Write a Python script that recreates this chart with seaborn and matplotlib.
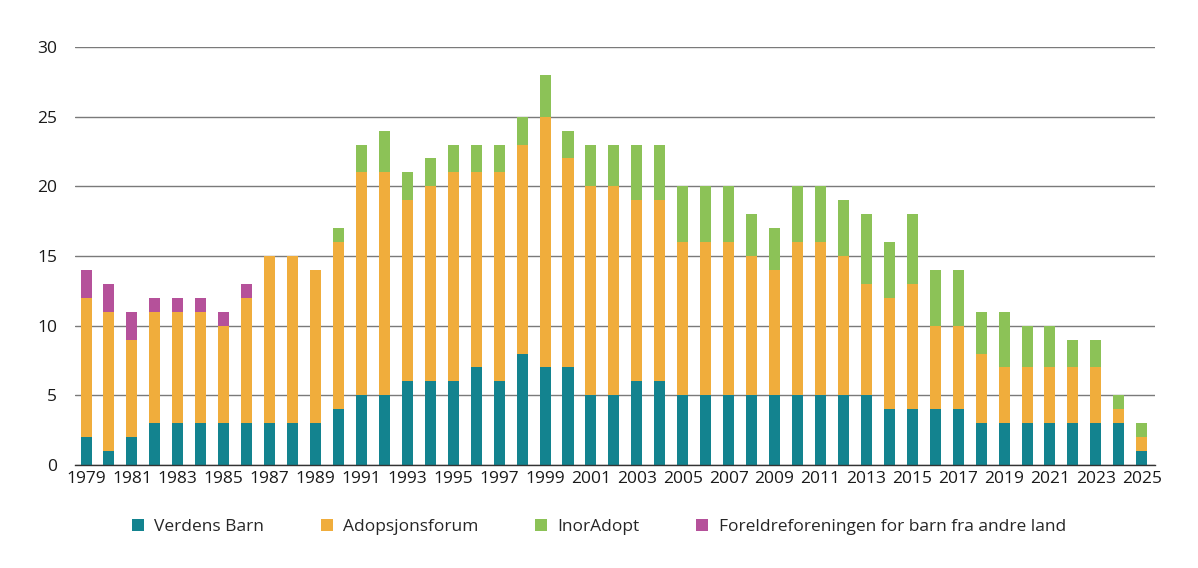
import numpy as np
import pandas as pd
import matplotlib
matplotlib.use("Agg")
import matplotlib.pyplot as plt
import seaborn as sns
from matplotlib.patches import Patch

years = list(range(1979, 2026))
verdens_barn = [2, 1, 2, 3, 3, 3, 3, 3, 3, 3, 3, 4, 5, 5, 6, 6, 6, 7, 6, 8, 7, 7,
                5, 5, 6, 6, 5, 5, 5, 5, 5, 5, 5, 5, 5, 4, 4, 4, 4, 3, 3, 3, 3, 3, 3, 3, 1]
adopsjonsforum = [10, 10, 7, 8, 8, 8, 7, 9, 12, 12, 11, 12, 16, 16, 13, 14, 15, 14, 15, 15, 18, 15,
                  15, 15, 13, 13, 11, 11, 11, 10, 9, 11, 11, 10, 8, 8, 9, 6, 6, 5, 4, 4, 4, 4, 4, 1, 1]
inoradopt = [0, 0, 0, 0, 0, 0, 0, 0, 0, 0, 0, 1, 2, 3, 2, 2, 2, 2, 2, 2, 3, 2,
             3, 3, 4, 4, 4, 4, 4, 3, 3, 4, 4, 4, 5, 4, 5, 4, 4, 3, 4, 3, 3, 2, 2, 1, 1]
foreldreforeningen = [2, 2, 2, 1, 1, 1, 1, 1, 0, 0, 0, 0, 0, 0, 0, 0, 0, 0, 0, 0, 0, 0,
                      0, 0, 0, 0, 0, 0, 0, 0, 0, 0, 0, 0, 0, 0, 0, 0, 0, 0, 0, 0, 0, 0, 0, 0, 0]
series_names = ["Verdens Barn", "Adopsjonsforum", "InorAdopt",
                "Foreldreforeningen for barn fra andre land"]
colors = ["#13838f", "#f0ad3c", "#8cc257", "#b5519a"]
yticks = [0, 5, 10, 15, 20, 25, 30]

sns.set_theme(style="white")
plt.rcParams['font.family'] = ['Open Sans', 'DejaVu Sans']

df = pd.DataFrame({
    "year": [str(y) for y in years],
    series_names[0]: verdens_barn,
    series_names[1]: adopsjonsforum,
    series_names[2]: inoradopt,
    series_names[3]: foreldreforeningen,
})
cum = df[series_names].cumsum(axis=1)

fig = plt.figure(figsize=(11.98, 5.68), dpi=100)
ax = fig.add_axes([0.0626, 0.1813, 0.9014, 0.736])

# draw cumulative totals from top series down so lower segments overlay
for name, col in reversed(list(zip(series_names, colors))):
    sns.barplot(x=df["year"], y=cum[name], color=col, width=0.48,
                saturation=1, ax=ax, edgecolor="none", linewidth=0, zorder=3)

ax.set_ylim(0, 30)
ax.set_xlim(-0.48, len(years) - 1 + 0.57)
ax.set_yticks(yticks)
ax.set_yticklabels([str(t) for t in yticks], fontsize=12.5, color="#1a1a1a")
ax.yaxis.grid(True, color="#7a7a7a", linewidth=1.0, zorder=0)
ax.set_axisbelow(True)
ax.set_xticks(range(len(years)))
ax.set_xticklabels([str(y) if (y - 1979) % 2 == 0 else "" for y in years],
                   fontsize=12.5, color="#1a1a1a")
ax.tick_params(axis="x", length=0, pad=4)
ax.tick_params(axis="y", length=0, pad=13)
ax.set_xlabel("")
ax.set_ylabel("")
for s in ["top", "right", "left"]:
    ax.spines[s].set_visible(False)
ax.spines["bottom"].set_color("#333333")
ax.spines["bottom"].set_linewidth(1.0)
ax.spines["bottom"].set_zorder(4)

handles = [Patch(facecolor=c, edgecolor="none") for c in colors]
fig.legend(handles, series_names, loc="center", bbox_to_anchor=(0.5, 0.072),
           ncol=4, frameon=False, fontsize=12.5, handlelength=0.7, handleheight=0.7,
           handletextpad=0.6, columnspacing=3.25)

fig.savefig("out.png", dpi=100)
